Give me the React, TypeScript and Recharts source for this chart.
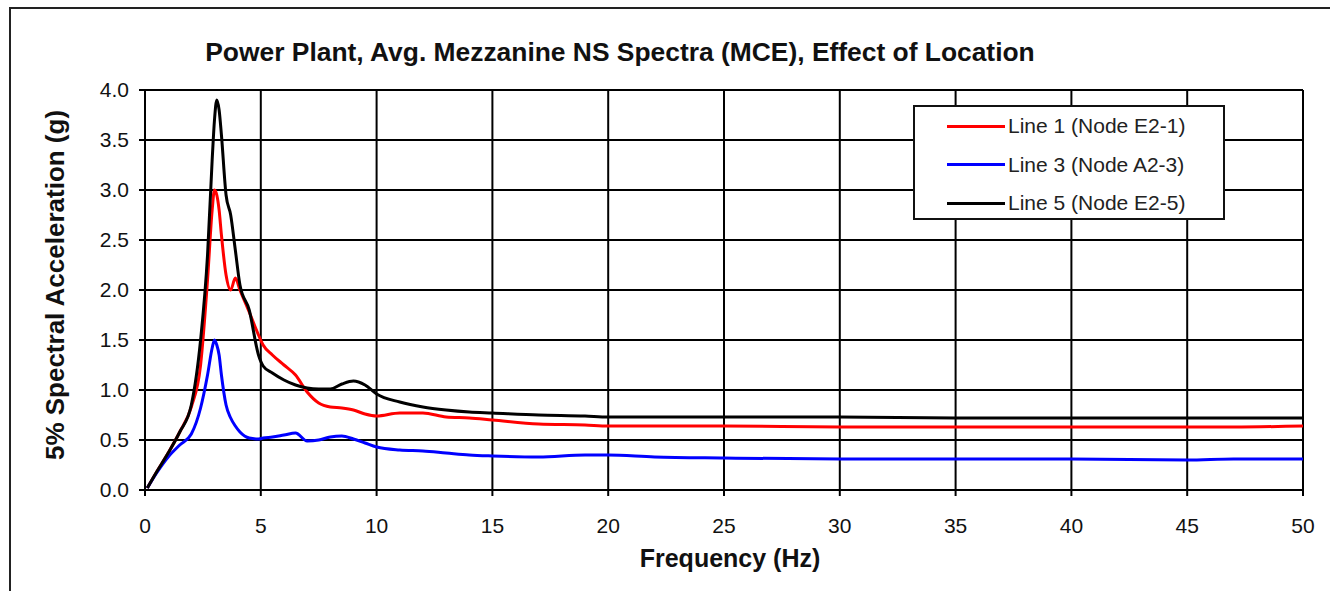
import React from "react";
import { CartesianGrid, Line, LineChart, XAxis, YAxis } from "recharts";

// frequency grid (Hz), shared by all three spectra
const FREQ = [
  0.1, 0.5, 1.0, 1.5, 2.0, 2.4, 2.7, 2.9, 3.0, 3.1, 3.2, 3.3, 3.5, 3.7, 3.9,
  4.1, 4.5, 4.9, 5.1, 5.5, 6.0, 6.5, 7.0, 7.5, 8.0, 8.5, 9.0, 9.5, 10, 11, 12,
  13, 14, 15, 17, 19, 20, 22, 25, 30, 35, 40, 45, 47, 50,
];

// spectral acceleration (g)
const LINE1 = [
  0.02, 0.18, 0.37, 0.58, 0.83, 1.25, 2.1, 2.8, 3.0, 2.95, 2.8, 2.55, 2.15,
  2.0, 2.12, 2.0, 1.78, 1.55, 1.45, 1.35, 1.25, 1.15, 0.98, 0.87, 0.83, 0.82,
  0.8, 0.76, 0.74, 0.77, 0.77, 0.73, 0.72, 0.7, 0.66, 0.65, 0.64, 0.64, 0.64,
  0.63, 0.63, 0.63, 0.63, 0.63, 0.64,
];
const LINE3 = [
  0.02, 0.17, 0.33, 0.45, 0.56, 0.82, 1.15, 1.42, 1.5, 1.45, 1.35, 1.15, 0.85,
  0.72, 0.64, 0.58, 0.52, 0.51, 0.52, 0.53, 0.55, 0.57, 0.49, 0.5, 0.53, 0.54,
  0.51, 0.47, 0.43, 0.4, 0.39, 0.37, 0.35, 0.34, 0.33, 0.35, 0.35, 0.33, 0.32,
  0.31, 0.31, 0.31, 0.3, 0.31, 0.31,
];
const LINE5 = [
  0.02, 0.18, 0.37, 0.58, 0.85, 1.5, 2.35, 3.3, 3.7, 3.9, 3.8, 3.55, 2.95,
  2.75, 2.4, 2.05, 1.8, 1.35, 1.24, 1.17, 1.1, 1.05, 1.02, 1.01, 1.01, 1.06,
  1.09, 1.05, 0.96, 0.88, 0.83, 0.8, 0.78, 0.77, 0.75, 0.74, 0.73, 0.73, 0.73,
  0.73, 0.72, 0.72, 0.72, 0.72, 0.72,
];

const X_TICKS = [0, 5, 10, 15, 20, 25, 30, 35, 40, 45, 50];
const Y_TICKS = [0, 0.5, 1, 1.5, 2, 2.5, 3, 3.5, 4];

const SERIES = [
  { key: "l1", name: "Line 1 (Node E2-1)", color: "#ff0000" },
  { key: "l3", name: "Line 3 (Node A2-3)", color: "#0000ff" },
  { key: "l5", name: "Line 5 (Node E2-5)", color: "#000000" },
];

const data = FREQ.map((f, i) => ({
  f,
  l1: LINE1[i],
  l3: LINE3[i],
  l5: LINE5[i],
}));

const FONT = "'Liberation Sans', Arial, sans-serif";

function LegendBox() {
  return (
    <div
      style={{
        position: "absolute",
        left: 913,
        top: 105,
        width: 312,
        height: 115,
        boxSizing: "border-box",
        border: "2px solid #111",
        background: "#fff",
        padding: "0 0 0 32px",
        fontFamily: FONT,
        fontSize: 21,
        color: "#222",
      }}
    >
      {SERIES.map((s) => (
        <div
          key={s.key}
          style={{ display: "flex", alignItems: "center", height: 38.5 }}
        >
          <span
            style={{
              display: "inline-block",
              width: 58,
              height: 3,
              background: s.color,
              marginRight: 3,
            }}
          />
          {s.name}
        </div>
      ))}
    </div>
  );
}

function YLabel({ viewBox }: any) {
  const cx = viewBox.x + viewBox.width - 90;
  const cy = viewBox.y + viewBox.height / 2 - 5;
  return (
    <text
      x={cx}
      y={cy}
      transform={`rotate(-90 ${cx} ${cy})`}
      textAnchor="middle"
      dominantBaseline="central"
      fontFamily={FONT}
      fontWeight="bold"
      fontSize={26}
      fill="#111"
    >
      5% Spectral Acceleration (g)
    </text>
  );
}

function XLabel({ viewBox }: any) {
  const cx = viewBox.x + viewBox.width / 2 + 6;
  const cy = viewBox.y + 68;
  return (
    <text
      x={cx}
      y={cy}
      textAnchor="middle"
      dominantBaseline="central"
      fontFamily={FONT}
      fontWeight="bold"
      fontSize={25}
      fill="#111"
    >
      Frequency (Hz)
    </text>
  );
}

export default function App() {
  return (
    <div
      style={{
        position: "absolute",
        left: 0,
        top: 0,
        width: 1330,
        height: 591,
        overflow: "hidden",
        background: "#fff",
      }}
    >
      <div
        style={{
          position: "absolute",
          left: 9,
          top: 7,
          width: 1400,
          height: 700,
          borderTop: "2px solid #222",
          borderLeft: "2px solid #222",
        }}
      />
      <div
        style={{
          position: "absolute",
          left: 0,
          width: 1240,
          top: 37,
          textAlign: "center",
          fontFamily: FONT,
          fontWeight: "bold",
          fontSize: 26.4,
          lineHeight: "30px",
          color: "#111",
        }}
      >
        Power Plant, Avg. Mezzanine NS Spectra (MCE), Effect of Location
      </div>
      <LineChart
        width={1330}
        height={591}
        data={data}
        margin={{ top: 90, right: 27, bottom: 71, left: 85 }}
        style={{ position: "absolute", left: 0, top: 0 }}
      >
        <CartesianGrid stroke="#000" strokeWidth={2} />
        <XAxis
          dataKey="f"
          type="number"
          domain={[0, 50]}
          ticks={X_TICKS}
          interval={0}
          height={30}
          tickSize={6}
          tickMargin={22}
          axisLine={{ stroke: "#000", strokeWidth: 2 }}
          tickLine={{ stroke: "#000", strokeWidth: 2 }}
          tick={{ fill: "#111", fontSize: 21, fontFamily: FONT }}
          label={<XLabel />}
        />
        <YAxis
          type="number"
          domain={[0, 4]}
          ticks={Y_TICKS}
          interval={0}
          width={60}
          tickSize={6}
          tickMargin={10}
          tickFormatter={(v: number) => v.toFixed(1)}
          axisLine={{ stroke: "#000", strokeWidth: 2 }}
          tickLine={{ stroke: "#000", strokeWidth: 2 }}
          tick={{ fill: "#111", fontSize: 21, fontFamily: FONT }}
          label={<YLabel />}
        />
        {SERIES.map((s) => (
          <Line
            key={s.key}
            dataKey={s.key}
            name={s.name}
            type="monotone"
            stroke={s.color}
            strokeWidth={3}
            dot={false}
            activeDot={false}
            isAnimationActive={false}
          />
        ))}
      </LineChart>
      <LegendBox />
    </div>
  );
}
